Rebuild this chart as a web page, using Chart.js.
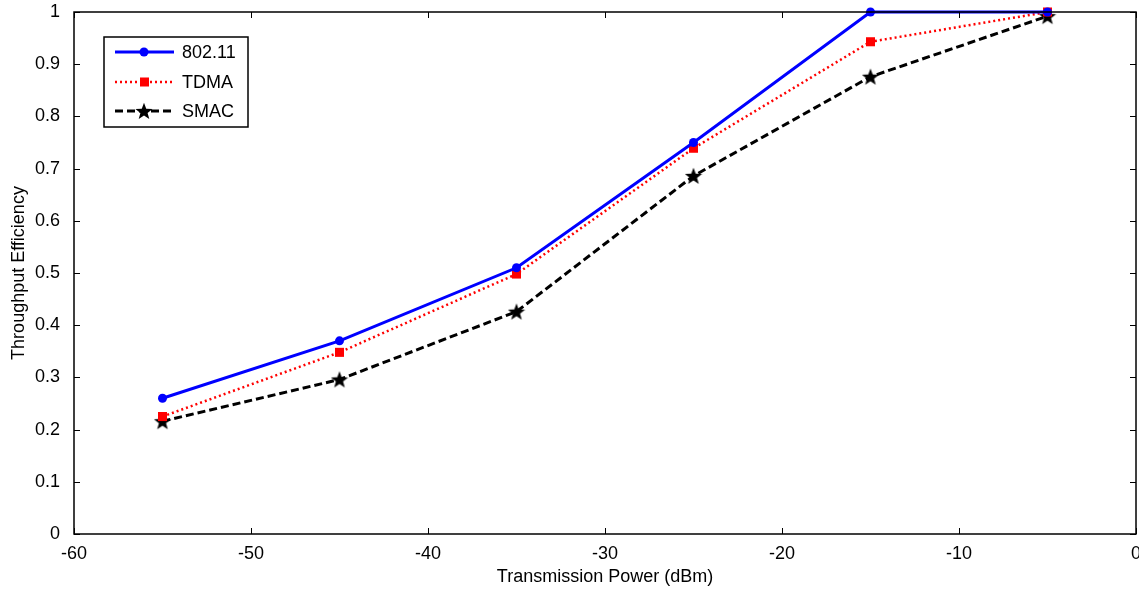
<!DOCTYPE html>
<html><head><meta charset="utf-8">
<script src="https://cdn.jsdelivr.net/npm/chart.js@4"></script>
<style>html,body{margin:0;padding:0;background:#fff;overflow:hidden}#wrap{width:1139px;height:590px}canvas{display:block}</style>
</head><body><div id="wrap"><canvas id="c" width="1139" height="590"></canvas></div>
<script>
const xValues = [-55, -45, -35, -25, -15, -5];
const s80211 = [0.26, 0.37, 0.51, 0.75, 1.0, 1.0];
const sTDMA = [0.225, 0.348, 0.498, 0.739, 0.943, 1.0];
const sSMAC = [0.216, 0.296, 0.426, 0.686, 0.876, 0.992];
const seriesNames = ['802.11', 'TDMA', 'SMAC'];
const xTicks = [-60, -50, -40, -30, -20, -10, 0];
const yTicks = [0, 0.1, 0.2, 0.3, 0.4, 0.5, 0.6, 0.7, 0.8, 0.9, 1];

function starCanvas(size, color){
  const c = document.createElement('canvas');
  c.width = size; c.height = size;
  const g = c.getContext('2d');
  const cx = size/2, cy = size/2+0.8, R = size/2, r = R*0.42;
  g.beginPath();
  for(let i=0;i<10;i++){
    const a = -Math.PI/2 + i*Math.PI/5;
    const rr = i%2===0 ? R : r;
    g.lineTo(cx + rr*Math.cos(a), cy + rr*Math.sin(a));
  }
  g.closePath(); g.fillStyle = color; g.fill();
  return c;
}
const star = starCanvas(18, '#000');

const toPts = arr => arr.map((v,i)=>({x:xValues[i], y:v}));
const FONT = 'Liberation Sans, Arial, sans-serif';
const FS = 18;
const RIGHT_GAP = 3;

const boxPlugin = {
  id:'box',
  afterLayout(chart){
    const target = chart.width - RIGHT_GAP;
    const ca = chart.chartArea;
    const d = target - ca.right;
    if (d !== 0) {
      ca.right = target; ca.width += d;
      const x = chart.scales.x;
      x.right = target; x.width += d; x.configure();
    }
  },
  afterDatasetsDraw(chart){
    const {ctx, chartArea:a, scales} = chart;
    ctx.save();
    ctx.strokeStyle='#000'; ctx.lineWidth=1;
    const tl = 6;
    ctx.beginPath();
    xTicks.forEach(t=>{
      const x = Math.round(scales.x.getPixelForValue(t))+0.5;
      ctx.moveTo(x, a.bottom); ctx.lineTo(x, a.bottom-tl);
      ctx.moveTo(x, a.top); ctx.lineTo(x, a.top+tl);
    });
    yTicks.forEach(t=>{
      const y = Math.round(scales.y.getPixelForValue(t))+0.5;
      ctx.moveTo(a.left, y); ctx.lineTo(a.left+tl, y);
      ctx.moveTo(a.right, y); ctx.lineTo(a.right-tl, y);
    });
    ctx.stroke();
    ctx.lineWidth=1.5;
    ctx.strokeRect(a.left, a.top, a.right-a.left, a.bottom-a.top);
    // legend
    const lx=104, ly=37, lw=144, lh=90;
    ctx.fillStyle='#fff'; ctx.fillRect(lx,ly,lw,lh);
    ctx.lineWidth=1.5; ctx.strokeStyle='#000'; ctx.strokeRect(lx,ly,lw,lh);
    const rows=[52,82,111];
    chart.data.datasets.forEach((ds,i)=>{
      const y=rows[i];
      ctx.save();
      ctx.strokeStyle=ds.borderColor; ctx.lineWidth=ds.borderWidth;
      ctx.setLineDash(ds.borderDash||[]);
      ctx.beginPath(); ctx.moveTo(115,y); ctx.lineTo(174,y); ctx.stroke();
      ctx.restore();
      if(i===0){ctx.fillStyle='#0000ff';ctx.beginPath();ctx.arc(144,y,4.5,0,Math.PI*2);ctx.fill();}
      else if(i===1){ctx.fillStyle='#ff0000';ctx.fillRect(140,y-4.5,9,9);}
      else {ctx.drawImage(star,144-9,y-9);}
      ctx.fillStyle='#000'; ctx.font=FS+'px '+FONT; ctx.textBaseline='middle'; ctx.textAlign='left';
      ctx.fillText(ds.label,182,y+1);
    });
    ctx.restore();
  }
};

new Chart(document.getElementById('c'), {
  type:'line',
  data:{datasets:[
    {label:seriesNames[0], data:toPts(s80211), borderColor:'#0000ff', backgroundColor:'#0000ff', borderWidth:3, pointStyle:'circle', pointRadius:4.5, pointBorderWidth:0, clip:false},
    {label:seriesNames[1], data:toPts(sTDMA), borderColor:'#ff0000', backgroundColor:'#ff0000', borderWidth:2.5, borderDash:[2,3], pointStyle:'rect', pointRadius:6.4, pointBorderWidth:0, clip:false},
    {label:seriesNames[2], data:toPts(sSMAC), borderColor:'#000000', backgroundColor:'#000000', borderWidth:3, borderDash:[8,4], pointStyle:star, pointRadius:9, clip:false}
  ]},
  options:{
    responsive:false, animation:false,
    layout:{padding:{top:10,right:3,left:0,bottom:0}},
    plugins:{legend:{display:false}, tooltip:{enabled:false}},
    elements:{line:{tension:0}},
    scales:{
      x:{type:'linear', min:-60, max:0,
        afterBuildTicks:s=>{s.ticks=xTicks.map(v=>({value:v}));},
        afterFit:s=>{s.height=56; s.paddingLeft=0; s.paddingRight=0;},
        grid:{display:false}, border:{display:false},
        ticks:{color:'#000', font:{family:FONT,size:FS}, padding:1, maxRotation:0, autoSkip:false},
        title:{display:true, text:'Transmission Power (dBm)', color:'#000', font:{family:FONT,size:FS}, padding:{top:0,bottom:2}}
      },
      y:{type:'linear', min:0, max:1,
        afterBuildTicks:s=>{s.ticks=yTicks.map(v=>({value:v}));},
        afterFit:s=>{s.width=74; s.paddingTop=0; s.paddingBottom=0;},
        grid:{display:false}, border:{display:false},
        ticks:{color:'#000', font:{family:FONT,size:FS}, padding:6, autoSkip:false, callback:v=>String(v)},
        title:{display:true, text:'Throughput Efficiency', color:'#000', font:{family:FONT,size:FS}, padding:{top:8,bottom:0}}
      }
    }
  },
  plugins:[boxPlugin]
});
</script></body></html>
